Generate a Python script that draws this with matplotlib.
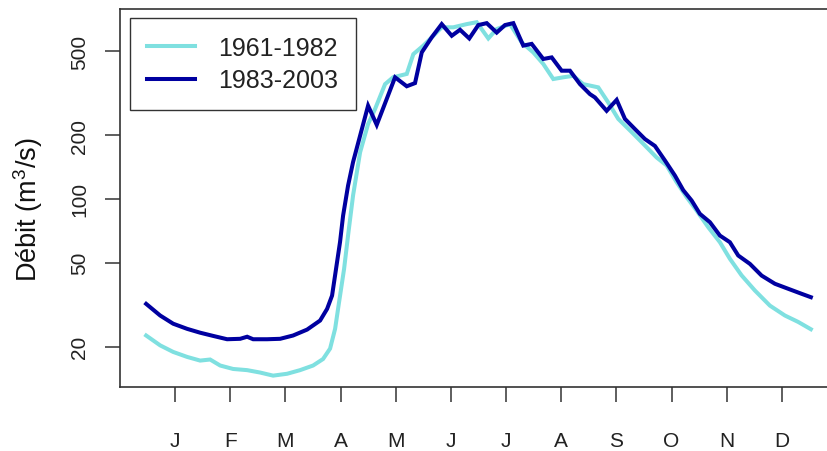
import matplotlib
matplotlib.use("Agg")
import matplotlib.pyplot as plt

plt.rcParams['font.family'] = ['Liberation Sans', 'DejaVu Sans']
plt.rcParams['mathtext.fontset'] = 'custom'
plt.rcParams['mathtext.rm'] = 'Liberation Sans'

# x positions in month units (1 = January tick, 12 = December tick)
x_recent = [0.474, 0.728, 0.964, 1.217, 1.453, 1.689, 1.942, 2.178, 2.305, 2.414,
            2.667, 2.903, 3.138, 3.392, 3.628, 3.755, 3.845, 3.936, 3.990, 4.045,
            4.135, 4.226, 4.353, 4.498, 4.655, 4.987, 5.199, 5.349, 5.471, 5.652,
            5.833, 6.015, 6.165, 6.333, 6.497, 6.649, 6.830, 6.980, 7.131, 7.312,
            7.464, 7.674, 7.827, 8.008, 8.158, 8.340, 8.521, 8.611, 8.823, 9.005,
            9.155, 9.336, 9.517, 9.699, 9.880, 10.061, 10.212, 10.364, 10.514, 10.696,
            10.877, 11.058, 11.209, 11.421, 11.633, 11.874, 12.114, 12.357, 12.526]
q_recent = [31.9, 28.1, 25.7, 24.3, 23.3, 22.5, 21.7, 21.8, 22.3, 21.7,
            21.7, 21.8, 22.6, 24.1, 26.6, 30.2, 34.9, 50.4, 62.7, 83.4,
            115.6, 149.5, 199, 276, 224, 376, 341, 353, 493, 581,
            671, 591, 631, 574, 664, 678, 612, 664, 678, 531,
            541, 459, 467, 404, 404, 349, 313, 302, 261, 294,
            239, 214, 192, 178, 152, 129, 110, 98.3, 85, 77.6,
            67.1, 62.4, 54, 49.3, 43.4, 39.7, 37.6, 35.6, 34.3]

x_old = [0.474, 0.728, 0.964, 1.217, 1.453, 1.634, 1.816, 2.051, 2.305, 2.540,
         2.776, 3.030, 3.265, 3.501, 3.682, 3.809, 3.900, 3.972, 4.063, 4.135,
         4.226, 4.353, 4.498, 4.624, 4.806, 4.951, 5.199, 5.319, 5.500, 5.681,
         5.833, 6.043, 6.286, 6.467, 6.678, 6.830, 7.071, 7.283, 7.493, 7.674,
         7.856, 8.037, 8.218, 8.399, 8.671, 8.852, 9.034, 9.277, 9.517, 9.730,
         9.911, 10.092, 10.273, 10.455, 10.665, 10.877, 11.058, 11.270, 11.511, 11.783,
         12.055, 12.296, 12.526]
q_old = [22.6, 20.3, 18.9, 17.9, 17.2, 17.4, 16.3, 15.7, 15.5, 15.1,
         14.6, 14.9, 15.5, 16.3, 17.5, 19.6, 24.3, 32.5, 46.7, 67.2,
         104, 166, 226, 266, 349, 376, 390, 484, 531, 591,
         648, 648, 671, 685, 574, 636, 671, 550, 493, 435,
         369, 376, 382, 349, 337, 286, 239, 207, 179, 157,
         144, 120, 102, 88, 73.5, 62.4, 52.1, 43.5, 36.9, 31.3,
         28.1, 26.2, 24.2]

months = ['J', 'F', 'M', 'A', 'M', 'J', 'J', 'A', 'S', 'O', 'N', 'D']
month_pos = list(range(1, 13))
y_ticks = [20, 50, 100, 200, 500]
series_labels = ['1961-1982', '1983-2003']

W, H = 828, 452
fig = plt.figure(figsize=(W / 100, H / 100), dpi=100)
ax = fig.add_axes([120 / W, (H - 388) / H, 717 / W, 378 / H])

ax.plot(x_old, q_old, color='#7FE0E0', lw=2.9, label=series_labels[0], solid_joinstyle='miter')
ax.plot(x_recent, q_recent, color='#0000A0', lw=2.9, label=series_labels[1], solid_joinstyle='miter')

ax.set_yscale('log')
ax.set_xlim(0.0, 13.0)
ax.set_ylim(12.9, 791)
ax.set_yticks(y_ticks)
ax.set_yticklabels([str(v) for v in y_ticks], rotation=90, va='center')
ax.yaxis.set_minor_locator(matplotlib.ticker.NullLocator())
ax.set_xticks(month_pos)
ax.set_xticklabels(months)

ax.tick_params(axis='both', direction='out', length=11, width=1.1, color='#333333',
               labelcolor='#222222', labelsize=15)
ax.tick_params(axis='y', pad=11)
ax.tick_params(axis='x', pad=21)
for s in ax.spines.values():
    s.set_linewidth(1.2)
    s.set_color('#333333')

ax.set_ylabel('Débit (m$^\\mathregular{3}$/s)', fontsize=19.5, color='#111111',
              va='center')
ax.yaxis.set_label_coords(-(120 - 28) / 717, 1 - (210 - 10) / 378)

leg = ax.legend(loc='upper left', bbox_to_anchor=((130 - 120) / 717, 1 - (19 - 10) / 378),
                borderaxespad=0, fontsize=18, handlelength=1.92, handletextpad=0.9,
                borderpad=0.7, labelspacing=0.36, fancybox=False, framealpha=1,
                edgecolor='#333333')
leg.get_frame().set_linewidth(1.0)
for t in leg.get_texts():
    t.set_color('#222222')

fig.savefig('out.png', dpi=100)
